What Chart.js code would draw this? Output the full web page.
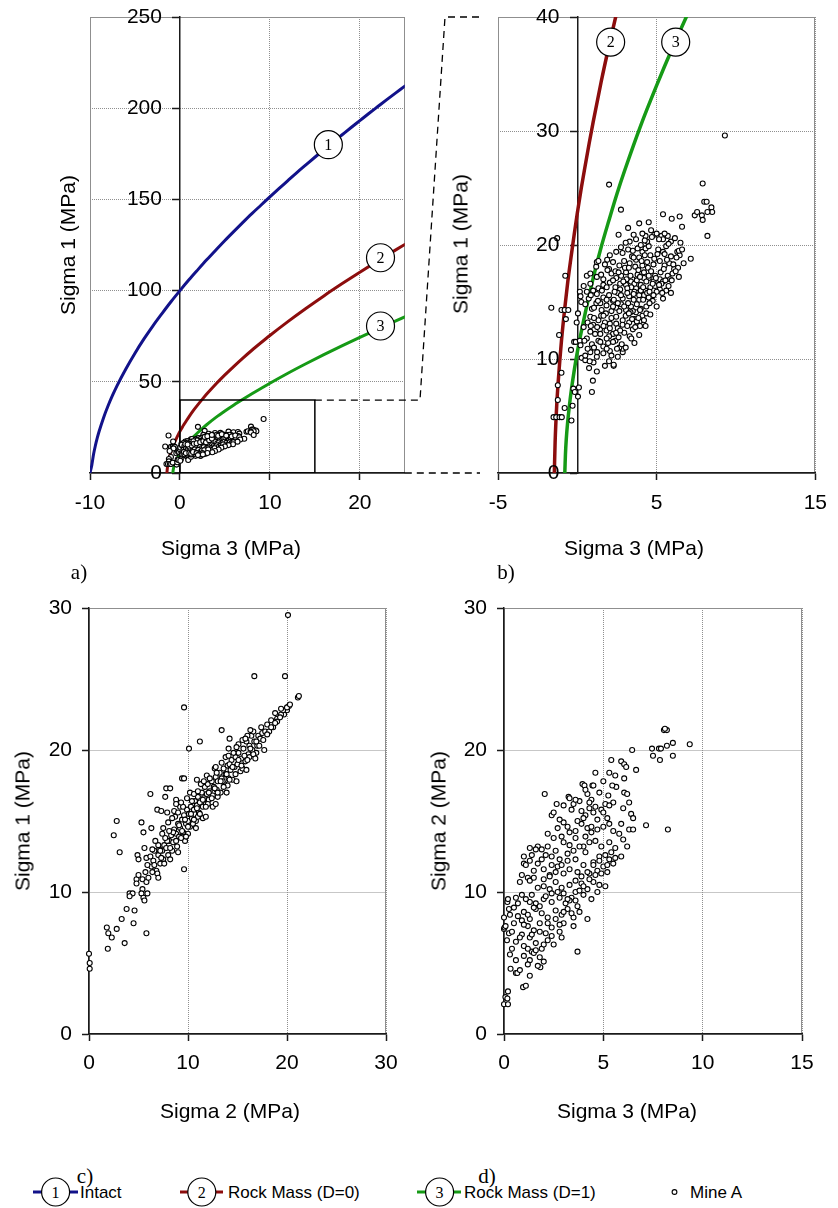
<!DOCTYPE html>
<html><head><meta charset="utf-8"><title>Mine A stresses</title>
<script src="https://cdn.jsdelivr.net/npm/chart.js@4.4.1/dist/chart.umd.min.js"></script>
<style>
html,body{margin:0;padding:0;background:#fff}
#wrap{position:relative;width:838px;height:1208px;overflow:hidden;background:#fff;font-family:"Liberation Sans",Arial,Helvetica,sans-serif;color:#000}
#wrap canvas{position:absolute;display:block}
.t{position:absolute;font-size:21px;line-height:1;white-space:nowrap;transform:translate(-50%,-50%)}
.ty{transform:translate(-50%,-50%) rotate(-90deg)}
.p{position:absolute;font-family:"Liberation Serif","Times New Roman",serif;font-size:21px;line-height:1;transform:translate(-50%,-50%)}
.lg{position:absolute;font-size:17px;line-height:1;white-space:nowrap;transform:translateY(-50%)}
svg{position:absolute;overflow:visible}
</style></head><body><div id="wrap">
<canvas id="cA" width="420" height="560" style="left:0;top:0"></canvas>
<canvas id="cB" width="418" height="560" style="left:420px;top:0"></canvas>
<canvas id="cC" width="420" height="560" style="left:0;top:560px"></canvas>
<canvas id="cD" width="418" height="560" style="left:420px;top:560px"></canvas>
<canvas id="ov" width="838" height="560" style="left:0;top:0;pointer-events:none"></canvas>

<div class="t ty" style="left:67px;top:245px">Sigma 1 (MPa)</div>
<div class="t" style="left:231px;top:547px">Sigma 3 (MPa)</div>
<div class="t ty" style="left:460px;top:244px">Sigma 1 (MPa)</div>
<div class="t" style="left:634px;top:547px">Sigma 3 (MPa)</div>
<div class="t ty" style="left:22px;top:821px">Sigma 1 (MPa)</div>
<div class="t" style="left:230px;top:1110px">Sigma 2 (MPa)</div>
<div class="t ty" style="left:438px;top:821px">Sigma 2 (MPa)</div>
<div class="t" style="left:627px;top:1110px">Sigma 3 (MPa)</div>

<div class="p" style="left:79px;top:572px">a)</div>
<div class="p" style="left:506px;top:572px">b)</div>
<div class="p" style="left:85px;top:1176px">c)</div>
<div class="p" style="left:487px;top:1176px">d)</div>

<svg width="838" height="40" style="left:0;top:1172px">
 <line x1="33" y1="20" x2="78" y2="20" stroke="#12128a" stroke-width="3"/>
 <circle cx="55.6" cy="20" r="14" fill="#fff" stroke="#000" stroke-width="1.2"/>
 <text x="55.6" y="25.5" text-anchor="middle" font-family="Liberation Serif, Times New Roman, serif" font-size="16">1</text>
 <line x1="180" y1="20" x2="223" y2="20" stroke="#8c0d0d" stroke-width="3"/>
 <circle cx="201.8" cy="20" r="14" fill="#fff" stroke="#000" stroke-width="1.2"/>
 <text x="201.8" y="25.5" text-anchor="middle" font-family="Liberation Serif, Times New Roman, serif" font-size="16">2</text>
 <line x1="417" y1="20" x2="461" y2="20" stroke="#169a16" stroke-width="3"/>
 <circle cx="439.6" cy="20" r="14" fill="#fff" stroke="#000" stroke-width="1.2"/>
 <text x="439.6" y="25.5" text-anchor="middle" font-family="Liberation Serif, Times New Roman, serif" font-size="16">3</text>
 <circle cx="674.5" cy="20" r="2.4" fill="#fff" stroke="#000" stroke-width="1.1"/>
</svg>
<div class="lg" style="left:80px;top:1192px">Intact</div>
<div class="lg" style="left:228px;top:1192px">Rock Mass (D=0)</div>
<div class="lg" style="left:464px;top:1192px">Rock Mass (D=1)</div>
<div class="lg" style="left:690px;top:1192px">Mine A</div>
</div>
<script>
// ---------- data ----------
// Curve 1: intact rock (sigma3, sigma1)
const intactS3 = [-10,-9.8,-9.6,-9.4,-9.2,-9,-8.5,-8,-7.5,-7,-6,-5,-4,-3,-2,-1,0,1,2,3,4,5,6,7,8,9,10,11,12,13,14,15,16,17,18,19,20,21,22,23,24,25];
const intactS1 = [0,4.3,10.4,15.1,19.1,22.6,30.2,36.7,42.5,47.8,57.2,65.7,73.5,80.7,87.4,93.9,100,105.9,111.5,117.0,122.3,127.5,132.5,137.4,142.2,146.8,151.4,155.9,160.3,164.7,168.9,173.1,177.2,181.3,185.3,189.3,193.2,197.1,200.9,204.7,208.4,212.1];
// Curve 2: rock mass D=0
const rmD0S3 = [-1.45,-1.4,-1.3,-1.2,-1.1,-1.0,-0.8,-0.6,-0.4,-0.2,0,0.25,0.5,0.75,1,1.5,2,2.5,3,4,5,6,7,8,9,10,12,14,16,18,20,22,25];
const rmD0S1 = [0,2.7,5.9,8.1,9.95,11.6,14.35,16.8,18.9,20.9,22.8,25.0,27.0,28.95,30.8,34.3,37.5,40.5,43.4,48.8,53.8,58.5,63.0,67.3,71.4,75.4,83.0,90.2,97.1,103.7,110.1,116.3,125.3];
// Curve 3: rock mass D=1
const rmD1S3 = [-0.79,-0.78,-0.75,-0.7,-0.6,-0.5,-0.4,-0.2,0,0.25,0.5,0.75,1,1.5,2,2.5,3,4,5,6,7,8,9,10,12,14,16,18,20,22,25];
const rmD1S1 = [0,0.4,1.6,2.9,4.6,5.9,7.05,8.96,10.6,12.4,14.05,15.6,17.1,19.8,22.2,24.5,26.6,30.5,34.0,37.3,40.4,43.4,46.3,49.2,54.7,59.9,64.9,69.7,74.4,78.9,85.6];
// Zoom window shown in b)
const zoomBoxS3 = [0,15,15,0,0];
const zoomBoxS1 = [0,0,40,40,0];
// Curve callout labels
const calloutText = ['1','2','3'];
const calloutA_S3 = [16.5,22.3,22.3];
const calloutA_S1 = [180,118,80.6];
const calloutB_text = ['2','3'];
const calloutB_S3 = [2.1,6.2];
const calloutB_S1 = [37.8,37.8];
// Tick values
const ticksA_x = [-10,0,10,20];
const ticksA_y = [0,50,100,150,200,250];
const ticksB_x = [-5,5,15];
const ticksB_y = [0,10,20,30,40];
const ticksC_x = [0,10,20,30];
const ticksC_y = [0,10,20,30];
const ticksD_x = [0,5,10,15];
const ticksD_y = [0,10,20,30];

// Mine A: (sigma3, sigma1)
const mineA_s3s1 = [
[9.3,29.6],[2.0,25.3],[7.9,25.4],[2.75,23.1],[8.0,23.8],[8.15,23.8],[8.45,23.3],[8.5,22.9],[8.2,22.9],[7.4,22.6],[7.55,22.9],[7.85,22.6],[7.9,22.2],[8.2,20.8],[5.4,22.7],[5.95,22.3],[6.45,22.5],[6.6,21.6],[4.5,22.0],[3.9,21.9],[3.2,21.5],[2.6,20.9],[7.15,18.8],[6.5,20.2],
[-1.27,20.6],[-0.76,17.3],[-1.64,14.5],[-1.0,14.3],[-0.8,14.3],[-0.57,14.3],[-0.72,13.5],[-1.15,12.1],[-1.0,8.8],[-1.23,7.7],[-1.23,6.4],[-1.5,4.9],[-1.33,4.9],[-1.12,4.9],[-0.98,4.9],[-0.37,4.6],[-0.8,5.7],[-0.3,5.9],[-0.25,7.4],[0.1,7.5],[-0.16,7.1],[0.04,6.7],[-0.4,10.8],[-0.2,11.5],[-0.1,11.5],[0.16,11.6],[0.2,11.2],[-0.04,13.2],[0.04,14.0],[0.16,15.9],[0.25,15.0],[0.27,10.1],[0.5,9.9],[0.74,9.2],[0.98,8.1],[0.92,7.1],[1.02,9.7],[0.78,9.8],[1.23,8.9],[1.74,9.4],[2.29,9.4],[2.29,9.5],[2.86,10.6],[2.86,10.9],[0.6,17.3],[1.19,18.1],[1.23,18.5],[1.88,18.7],[2.0,17.9],
[3.3,20.3],[3.7,20.5],[4.3,20.8],[4.85,20.9],[5.0,21.0],[5.3,20.8],[5.4,20.5],[5.7,20.8],[5.9,20.3],
[2.05,19.1],[2.45,19.4],[2.85,19.3],[3.2,19.6],[3.5,19.5],[3.8,19.7],[4.1,19.4],[4.3,19.7],[4.5,19.9],[5.1,19.6],[5.4,19.4],[5.9,19.0],[6.3,19.4],[6.45,19.1],
[1.33,18.6],[1.74,18.3],[2.25,18.5],[2.65,18.2],[2.95,18.6],[3.3,18.4],[3.7,18.7],[4.1,18.2],[4.4,18.5],[4.8,18.3],[5.2,18.6],[5.5,18.2],[5.8,18.4],[6.1,17.9],[6.35,18.0],
[0.82,17.5],[1.23,17.2],[1.64,17.0],[2.15,17.5],[2.45,17.1],[2.76,17.3],[3.07,17.6],[3.48,17.0],[3.8,17.4],[4.2,17.6],[4.5,17.1],[4.9,17.3],[5.2,17.0],[5.4,16.8],[5.7,17.3],
[0.4,16.4],[0.82,16.6],[1.33,16.2],[1.64,16.5],[2.05,16.7],[2.4,16.3],[2.7,16.1],[3.07,16.5],[3.38,16.8],[3.7,16.2],[4.0,16.5],[4.3,16.0],[4.6,16.3],[4.9,16.4],[5.2,16.1],[5.3,16.6],
[0.2,15.5],[0.72,15.3],[1.23,15.7],[1.64,15.4],[2.0,15.6],[2.25,15.1],[2.55,15.8],[2.86,15.3],[3.27,15.5],[3.6,15.9],[3.9,15.2],[4.2,15.6],[4.5,15.4],[4.75,15.1],
[0.5,14.8],[0.92,14.4],[1.53,14.3],[1.84,14.7],[2.15,14.2],[2.45,14.5],[2.76,14.8],[3.07,14.3],[3.38,14.6],[3.7,14.1],[4.0,14.4],[4.1,13.8],
[0.82,13.7],[1.33,13.4],[1.74,13.2],[2.15,13.6],[2.45,13.1],[2.86,13.4],[3.27,13.2],[3.6,13.5],[3.8,13.0],[4.2,13.4],
[0.4,12.8],[0.82,12.4],[1.12,12.2],[1.43,12.6],[1.84,12.5],[2.25,12.2],[2.55,12.7],[2.96,12.3],[3.5,12.6],
[0.6,11.8],[0.92,11.3],[1.33,11.6],[1.64,11.1],[1.94,11.4],[2.4,11.6],[2.65,11.0],[2.8,11.3],
[0.5,10.3],[0.82,10.6],[1.23,10.2],[1.64,10.5],[2.05,10.7],
[6.0,17.5],[6.2,17.7],[5.6,16.0],[5.0,15.9],[6.4,19.5],[5.6,19.9],[5.5,19.2],[4.6,19.1],[4.0,20.0],[3.9,18.9],[4.4,20.3],[4.7,20.7],[5.5,21.0],[4.1,21.0],[4.5,17.3],[4.2,17.1],[3.6,16.6],[3.4,16.3],[4.8,16.8],[4.4,15.8],[3.9,15.6],[4.0,16.0],[3.2,14.9],[3.5,14.2],[4.35,14.0],[3.75,13.3],[4.15,13.0],[3.95,12.9],[3.3,12.0],[3.4,11.8],[2.6,11.9],[2.0,12.0],[1.5,13.8],[1.0,13.0],[1.8,14.0],[2.3,15.2],[2.7,16.6],[3.1,17.0],[3.0,18.0],[2.4,17.7],[1.9,17.8],[1.5,17.4],[1.0,16.0],[0.6,15.9],[1.2,14.9],
[3.45,19.0],[3.65,18.1],[3.85,17.8],[4.05,18.6],[4.25,19.1],[4.45,18.0],[4.65,17.7],[4.85,18.8],[5.05,19.2],[5.25,17.6],[5.45,17.9],[5.65,18.7],[5.85,17.0],[6.05,18.3],[6.25,18.9],
[3.15,16.2],[3.35,17.3],[3.55,15.7],[3.75,16.9],[3.95,17.2],[4.15,16.3],[4.35,16.8],[4.55,15.9],[4.75,16.6],[4.95,17.1],[5.15,16.5],[5.35,15.8],[5.55,16.9],[5.75,16.4],[5.95,16.9],
[2.35,15.9],[2.55,14.9],[2.75,15.6],[2.95,14.6],[3.15,15.8],[3.35,14.1],[3.55,15.2],[3.75,14.8],[3.95,14.3],[4.15,15.2],[4.35,14.6],[4.55,14.9],[4.8,15.6],
[1.45,14.9],[1.65,13.8],[1.85,15.2],[2.05,13.1],[2.25,14.6],[2.45,13.7],[2.65,14.2],[2.85,13.0],[3.05,13.8],[3.25,14.0],[3.45,13.5],[3.65,12.8],[3.85,13.6],
[0.65,13.2],[0.85,12.9],[1.05,13.6],[1.25,12.8],[1.45,12.2],[1.65,12.9],[1.85,11.8],[2.05,12.7],[2.25,11.5],[2.45,12.3],[2.7,12.5],[3.15,12.9],
[0.45,11.6],[0.65,10.9],[1.05,11.0],[1.25,10.6],[1.45,11.5],[1.85,10.9],[2.15,10.3],[2.5,10.9],
[1.05,14.5],[1.3,15.1],[0.85,15.6],[1.55,16.0],[1.85,16.3],[2.25,16.9],[2.6,17.6],[2.9,16.8],[3.25,18.0],[3.55,18.9],[2.75,19.8],[3.05,20.2],[3.55,20.9],[4.25,20.4],[4.65,21.3],[5.15,20.5],[5.75,20.1],[6.15,20.6],[6.6,19.6],[6.7,18.4],[6.4,17.2],[5.9,15.8],[5.4,15.3],[5.0,14.6],[4.6,13.9],[4.3,12.9],[3.9,12.1],[3.6,11.4],[3.05,11.0],[2.55,10.2],[2.0,9.8]
];
// Mine A: (sigma2, sigma1)
const mineA_s2s1 = [
[20.1,29.5],[16.7,25.2],[19.8,25.2],[21.1,23.7],[21.2,23.8],[9.6,23.0],[20.2,23.1],[20.0,22.8],[19.7,22.5],[19.4,22.5],[19.0,22.2],[13.4,21.4],[14.2,20.8],[11.2,20.6],[10.1,20.1],[14.1,20.1],[6.2,16.9],[9.4,18.0],[9.6,18.0],[7.8,17.3],[8.2,17.3],[7.7,16.7],[6.9,15.8],[8.8,16.5],[2.8,15.0],[2.5,14.0],[5.3,14.9],[5.5,14.2],[6.3,14.5],[3.1,12.8],[4.9,12.6],[5.6,13.1],[5.0,12.3],[9.6,11.6],[3.8,8.8],[4.6,8.7],[4.1,9.9],[4.4,9.9],[4.1,9.7],[3.3,8.1],[4.5,7.8],[1.8,7.5],[1.95,7.1],[2.3,6.8],[2.8,7.4],[1.9,6.0],[3.6,6.4],[5.8,7.1],[0.0,5.65],[0.07,5.0],[0.07,4.6],[4.8,10.9],[4.8,10.6],[5.4,10.9],[5.8,10.7],[5.4,10.2],[5.3,9.9],[5.5,9.6],[5.6,9.4],[5.9,9.9],[5.0,11.2],
[6.0,11.0],[6.3,11.8],[6.5,12.2],[6.8,11.5],[7.0,12.6],[7.2,12.0],[7.4,12.9],[7.6,13.3],[7.1,13.0],[6.6,12.9],[7.8,13.1],[8.0,12.6],[8.1,13.6],[8.3,14.0],[8.5,13.5],[8.6,14.4],[8.8,14.1],[8.9,13.2],[9.0,14.8],[9.1,13.9],[9.2,14.5],[9.4,15.1],[9.5,14.2],[9.6,15.4],[9.7,13.6],[9.8,14.8],[9.9,15.8],[10.0,15.0],[10.1,15.5],[10.2,14.6],[10.3,16.0],[10.4,15.2],[10.6,15.8],[10.7,16.4],[10.8,15.0],[10.9,16.1],[11.0,16.7],[11.1,15.6],[11.2,16.3],[11.4,17.0],[11.5,16.0],[11.6,16.6],[11.7,17.4],[11.8,16.2],[11.9,16.9],[12.0,17.6],[12.1,16.5],[12.2,17.1],[12.4,17.8],[12.5,16.8],[12.6,17.4],[12.8,18.1],[12.9,17.2],[13.0,17.8],[13.2,18.4],[13.3,17.0],[13.4,18.0],[13.6,18.7],[13.7,17.6],[13.8,18.3],[14.0,18.9],[14.1,18.0],[14.3,18.6],[14.4,19.3],[14.5,17.9],[14.7,18.8],[14.8,19.5],[15.0,19.0],[15.1,19.8],[15.3,18.5],[15.4,19.4],[15.6,20.1],[15.8,19.2],[15.9,20.6],[16.1,19.7],[16.2,20.3],[16.4,21.0],[16.5,20.0],[16.7,20.6],[16.9,19.8],[17.1,21.0],[17.3,20.8],[17.5,21.2],[17.8,21.3],[18.2,21.3],[18.0,21.8],[18.6,21.6],[18.4,22.1],[19.0,22.0],[19.3,22.3],[19.6,22.8],[20.0,23.0],[20.3,23.2],
[13.0,16.7],[12.0,16.2],[11.0,15.3],[10.5,14.8],[9.3,13.8],[8.4,12.9],[9.0,12.8],[7.5,12.3],[6.9,11.3],[10.2,17.0],[9.2,16.0],[8.7,15.3],[8.0,14.9],[7.5,14.5],[7.0,13.3],[6.4,13.0],[5.8,12.4],[6.2,12.5],[5.7,11.4],[12.7,18.7],[14.6,19.8],[15.5,20.7],[16.0,21.0],[11.3,17.6],[10.9,17.9],[13.8,19.5],[14.2,19.0],[8.8,16.2],[9.5,16.0],[10.6,16.9],[11.9,18.2],[12.9,18.4],[15.1,20.4],[17.0,20.3],[16.6,21.3],[18.8,22.6],[19.4,22.9],[10.0,14.1],[11.5,15.2],[12.5,16.0],[14.0,17.5],[13.5,17.8],[15.5,18.7],[16.2,19.5],
[7.3,12.4],[7.6,12.0],[7.9,13.6],[8.2,13.1],[8.5,14.2],[8.8,13.6],[9.1,14.7],[9.4,14.3],[9.7,15.1],[10.0,14.6],[10.3,15.5],[10.6,15.1],[10.9,15.9],[11.2,15.5],[11.5,16.5],[11.8,16.0],[12.1,17.0],[12.4,16.6],[12.7,17.3],[13.0,17.0],[13.3,17.8],[13.6,17.4],[13.9,18.3],[14.2,17.9],[14.5,18.8],[14.8,18.3],[15.1,19.3],[15.4,18.9],[15.7,19.6],[16.0,19.3],[16.3,20.1],[16.6,19.7],[16.9,20.6],[17.2,20.3],[17.6,20.7],[18.0,21.1],[18.4,21.6],[18.8,21.9],
[8.6,15.7],[9.0,15.6],[9.3,16.3],[9.9,16.6],[10.4,16.4],[11.0,17.1],[11.6,17.8],[12.2,18.0],[12.8,18.8],[13.4,19.1],[14.1,19.6],[14.9,20.2],[15.8,20.8],[16.3,21.4],[17.4,21.6],
[9.8,13.9],[10.8,14.5],[11.8,15.3],[12.8,16.2],[13.9,17.0],[14.9,17.8],[15.9,18.6],[16.8,19.4],[17.7,20.0],
[6.6,11.9],[7.2,12.9],[7.7,13.8],[8.1,14.3],[8.4,15.2],[8.2,12.3],[7.0,11.0],[6.4,11.4],[5.9,11.9],[6.7,13.6],[7.4,14.1],[7.9,15.6],[7.3,15.7]
];
// Mine A: (sigma3, sigma2)
const mineA_s3s2 = [
[9.35,20.4],[8.5,20.5],[8.5,19.6],[8.2,20.3],[8.05,21.4],[8.2,21.4],[8.1,21.5],[7.45,20.1],[7.5,19.6],[7.8,20.1],[7.9,20.1],[7.85,19.3],[6.45,20.0],[6.65,18.6],[5.4,19.3],[5.9,19.2],[6.05,19.0],[6.15,18.8],[5.3,18.4],[4.6,18.4],[8.25,14.4],[7.15,14.7],[6.05,18.0],[6.05,17.0],[5.65,17.4],[5.45,17.5],[5.25,16.8],[3.95,17.6],[4.05,17.5],[4.45,17.5],[2.05,16.9],[2.65,16.2],[2.4,15.4],[3.25,16.7],[3.7,5.8],[0.0,8.2],[0.0,7.4],[0.03,7.5],[0.08,7.6],[0.17,9.3],[0.25,8.8],[0.25,7.1],[0.15,6.6],[0.3,5.6],[0.33,4.6],[0.6,4.3],[0.67,4.3],[0.8,4.5],[0.2,3.0],[0.07,2.6],[0.17,2.5],[0.0,2.1],[0.2,2.1],[0.96,3.3],[1.1,3.4],[1.3,4.1],[1.83,4.7],[4.2,8.1],[3.5,7.6],
[3.3,16.6],[3.8,16.4],[4.2,16.9],[4.4,16.5],[5.1,16.2],[5.5,16.3],[6.3,16.3],
[2.5,15.6],[3.4,15.8],[3.9,15.7],[4.1,15.4],[4.3,15.9],[4.5,15.6],[4.9,15.8],[5.2,15.2],[6.4,15.5],[6.5,15.2],
[2.7,14.5],[3.0,14.9],[3.2,14.6],[3.6,14.3],[3.9,14.8],[4.2,14.5],[4.4,14.2],[4.7,14.4],[5.0,14.6],[5.3,14.8],[5.5,14.3],[5.9,14.8],[6.3,14.4],[6.5,14.4],
[1.7,13.2],[1.9,13.0],[2.5,13.8],[3.0,13.5],[3.3,13.3],[3.6,13.8],[4.0,13.2],[4.3,13.5],[4.6,13.6],[4.9,13.2],[5.3,13.5],[6.2,13.2],[6.0,13.7],
[1.0,12.5],[1.3,12.2],[1.7,12.0],[2.1,12.6],[2.4,12.5],[2.8,12.3],[3.2,12.7],[3.6,12.3],[4.1,12.8],[4.5,12.1],[4.8,12.5],[5.3,12.3],[5.6,12.4],[5.9,12.5],
[0.9,11.2],[1.2,11.0],[1.5,11.5],[2.0,11.6],[2.3,11.2],[2.7,11.8],[3.0,11.3],[3.3,11.6],[3.7,11.4],[4.0,11.9],[4.3,11.3],[4.7,11.5],[5.0,11.8],[5.2,11.4],
[0.8,10.7],[1.3,10.8],[2.0,10.4],[2.3,10.2],[2.6,10.7],[2.9,10.3],[3.3,10.5],[3.6,10.0],[3.9,10.6],[4.2,10.2],[4.5,10.7],[4.8,10.5],[5.1,10.4],
[0.2,9.5],[0.6,9.6],[0.9,9.8],[1.3,9.3],[1.6,9.2],[2.0,9.5],[2.4,9.9],[2.8,9.6],[3.1,9.2],[3.4,9.6],[3.7,9.0],[4.0,9.8],[4.4,9.5],[4.7,10.0],
[0.5,8.9],[0.7,8.3],[1.0,8.6],[1.3,8.1],[1.6,8.8],[1.9,8.5],[2.2,8.2],[2.6,8.7],[2.9,8.4],[3.2,8.8],[3.5,8.2],[3.8,8.6],
[0.4,7.2],[0.9,7.0],[1.2,7.6],[1.5,7.3],[1.8,7.8],[2.1,7.1],[2.4,7.5],[2.8,7.2],[3.0,7.8],[2.9,6.8],
[0.6,6.5],[1.0,6.2],[1.3,6.8],[1.6,6.4],[1.9,6.0],[2.2,6.6],[2.5,6.3],[1.4,5.8],
[1.0,5.5],[1.3,5.2],[1.5,5.7],[1.8,5.4],[2.0,5.1],[1.7,4.8],[1.2,4.9],
[1.3,13.1],[1.6,13.0],[1.0,12.0],[1.5,11.0],[2.4,11.9],[3.5,16.2],[4.3,16.3],[4.5,17.5],
[0.3,8.4],[0.5,7.8],[0.7,9.2],[0.9,8.0],[1.1,9.5],[1.2,8.4],[1.4,9.8],[1.5,8.9],[1.7,10.3],[1.8,9.0],[2.0,10.9],[2.1,9.7],[2.3,11.1],[2.4,9.3],[2.6,11.4],[2.7,10.0],[2.9,11.9],[3.0,9.9],[3.2,12.2],[3.3,9.4],[3.5,12.9],[3.6,10.8],[3.8,13.2],[3.9,11.1],[4.1,13.9],[4.2,11.4],[4.4,14.6],[4.5,11.9],[4.7,15.1],[4.8,12.2],[5.0,15.6],[5.1,12.6],[5.3,16.1],[5.4,12.8],[5.6,13.1],[5.8,14.1],[6.0,15.9],[6.2,16.9],
[0.4,6.0],[0.6,5.2],[0.8,6.8],[1.0,7.7],[1.2,6.0],[1.4,7.0],[1.6,5.9],[1.8,7.2],[2.0,6.3],[2.2,7.8],[2.4,6.9],[2.6,8.1],[2.8,7.7],[3.0,8.6],[3.2,9.5],[3.4,8.5],[3.6,9.4],[3.8,10.1],[4.0,10.4],[4.3,10.9],[4.6,11.2],[4.9,11.3],[5.2,11.9],[5.5,12.0],
[1.1,11.9],[1.4,12.6],[1.9,12.3],[2.2,13.2],[2.6,12.9],[2.9,13.9],[3.3,14.2],[3.7,15.0],[4.0,15.2],[4.6,16.0],[2.2,14.1],[2.8,15.1],[3.0,16.1],[3.6,16.5],[4.1,17.2],[4.8,17.0],[5.0,17.8],[5.6,18.2]
];

// ---------- styling ----------
const BLUE = '#12128a', RED = '#8c0d0d', GREEN = '#169a16';
const GRID = '#8f8f8f', AX = '#1a1a1a';
const FONT = {family: '"Liberation Sans", Arial, Helvetica, sans-serif', size: 21};
const MARK = 2.5;

function xy(xs, ys) { return xs.map((x, i) => ({x: x, y: ys[i]})); }
function pairs(arr) { return arr.map(p => ({x: p[0], y: p[1]})); }

function curveDS(data, color, w) {
  return {data: data, showLine: true, borderColor: color, backgroundColor: color, borderWidth: w,
    pointRadius: 0, pointHoverRadius: 0, tension: 0.35, cubicInterpolationMode: 'monotone',
    borderJoinStyle: 'round', borderCapStyle: 'round'};
}
function pointsDS(data, r) {
  return {data: data, showLine: false, pointRadius: r, pointHoverRadius: r, pointBorderWidth: 1.1,
    pointBorderColor: '#000', pointBackgroundColor: '#fff', clip: false};
}
function calloutDS(xs, ys, labels) {
  return {data: xy(xs, ys), showLine: false, pointRadius: 14, pointHoverRadius: 14, pointBorderWidth: 1.2,
    pointBorderColor: '#000', pointBackgroundColor: '#fff', clip: false, calloutText: labels};
}
function axis(o) {
  return {
    type: 'linear', min: o.min, max: o.max, position: o.position,
    afterBuildTicks: s => { s.ticks = o.ticks.map(v => ({value: v})); },
    afterFit: s => { if (o.size != null) { if (s.isHorizontal()) s.height = o.size; else s.width = o.size; } },
    grid: {display: true, color: GRID, lineWidth: 1, drawOnChartArea: true, drawTicks: true,
      tickLength: 7, tickColor: AX, tickWidth: 1.5},
    border: {display: true, color: AX, width: 1.5, dash: [1, 1]},
    ticks: {display: o.showLabels !== false, font: FONT, color: '#000', padding: o.pad || 10,
      maxRotation: 0, minRotation: 0, autoSkip: false, callback: v => String(v)}
  };
}

const frame = {
  id: 'frame',
  beforeDraw(chart) {
    const a = chart.chartArea, ctx = chart.ctx;
    ctx.save();
    ctx.strokeStyle = GRID; ctx.lineWidth = 1;
    ctx.strokeRect(Math.round(a.left) + 0.5, Math.round(a.top) + 0.5, Math.round(a.right - a.left) - 1, Math.round(a.bottom - a.top));
    ctx.restore();
  }
};
const callout = {
  id: 'callout',
  afterDatasetsDraw(chart) {
    const ctx = chart.ctx;
    ctx.save();
    ctx.font = '16px "Liberation Serif", "Times New Roman", serif';
    ctx.fillStyle = '#000'; ctx.textAlign = 'center'; ctx.textBaseline = 'middle';
    chart.data.datasets.forEach((ds, i) => {
      if (!ds.calloutText) return;
      chart.getDatasetMeta(i).data.forEach((pt, j) => ctx.fillText(ds.calloutText[j], pt.x, pt.y + 1));
    });
    ctx.restore();
  }
};
// tick labels for a y axis that crosses at x = 0
const crossLabels = {
  id: 'crossLabels',
  afterDraw(chart, args, opts) {
    if (!opts || !opts.enabled) return;
    const ys = chart.scales.y, xs = chart.scales.x, ctx = chart.ctx;
    const x0 = xs.getPixelForValue(opts.at) - opts.offset;
    ctx.save();
    ctx.font = FONT.size + 'px ' + FONT.family;
    ctx.fillStyle = '#000'; ctx.textAlign = 'right'; ctx.textBaseline = 'middle';
    ys.ticks.forEach(t => ctx.fillText(String(t.value), x0, ys.getPixelForValue(t.value)));
    ctx.restore();
  }
};

function baseOptions(padding, scales, cross) {
  return {
    responsive: false, animation: false, devicePixelRatio: 1, events: [],
    layout: {padding: padding},
    plugins: {legend: {display: false}, tooltip: {enabled: false}, crossLabels: cross || {enabled: false}},
    scales: scales
  };
}

// ---------- a) ----------
const chartA = new Chart(document.getElementById('cA'), {
  type: 'scatter',
  data: {datasets: [
    calloutDS(calloutA_S3, calloutA_S1, calloutText),
    pointsDS(pairs(mineA_s3s1), MARK),
    Object.assign(curveDS(xy(zoomBoxS3, zoomBoxS1), '#000', 1.5), {tension: 0, cubicInterpolationMode: 'default', borderJoinStyle: 'miter', borderCapStyle: 'butt'}),
    curveDS(xy(intactS3, intactS1), BLUE, 3),
    curveDS(xy(rmD0S3, rmD0S1), RED, 3),
    curveDS(xy(rmD1S3, rmD1S1), GREEN, 3)
  ]},
  options: baseOptions({left: 90, right: 15, top: 17, bottom: 0}, {
    x: axis({min: -10, max: 25, ticks: ticksA_x, size: 87, pad: 11, position: 'bottom'}),
    y: axis({min: 0, max: 250, ticks: ticksA_y, position: {x: 0}, showLabels: false})
  }, {enabled: true, at: 0, offset: 18}),
  plugins: [frame, callout, crossLabels]
});

// ---------- b) ----------
const chartB = new Chart(document.getElementById('cB'), {
  type: 'scatter',
  data: {datasets: [
    calloutDS(calloutB_S3, calloutB_S1, calloutB_text),
    pointsDS(pairs(mineA_s3s1), MARK),
    curveDS(xy(rmD0S3, rmD0S1), RED, 3.5),
    curveDS(xy(rmD1S3, rmD1S1), GREEN, 3.5)
  ]},
  options: baseOptions({left: 78, right: 14, top: 17, bottom: 0}, {
    x: axis({min: -5, max: 15, ticks: ticksB_x, size: 87, pad: 11, position: 'bottom'}),
    y: axis({min: 0, max: 40, ticks: ticksB_y, position: {x: 0}, showLabels: false})
  }, {enabled: true, at: 0, offset: 18}),
  plugins: [frame, callout, crossLabels]
});

// ---------- c) ----------
const chartC = new Chart(document.getElementById('cC'), {
  type: 'scatter',
  data: {datasets: [pointsDS(pairs(mineA_s2s1), MARK)]},
  options: baseOptions({left: 0, right: 34, top: 48, bottom: 0}, {
    x: axis({min: 0, max: 30, ticks: ticksC_x, size: 86, pad: 10, position: 'bottom'}),
    y: axis({min: 0, max: 30, ticks: ticksC_y, size: 89, pad: 10, position: 'left'})
  }),
  plugins: [frame]
});

// ---------- d) ----------
const chartD = new Chart(document.getElementById('cD'), {
  type: 'scatter',
  data: {datasets: [pointsDS(pairs(mineA_s3s2), MARK)]},
  options: baseOptions({left: 0, right: 36, top: 48, bottom: 0}, {
    x: axis({min: 0, max: 15, ticks: ticksD_x, size: 86, pad: 10, position: 'bottom'}),
    y: axis({min: 0, max: 30, ticks: ticksD_y, size: 84, pad: 10, position: 'left'})
  }),
  plugins: [frame]
});

// ---------- dashed connector from the zoom box in a) to b) ----------
(function () {
  const ctx = document.getElementById('ov').getContext('2d');
  const ax = chartA.scales.x, ay = chartA.scales.y;
  const bx0 = 420 + chartB.chartArea.left, btop = chartB.chartArea.top;
  const boxR = ax.getPixelForValue(Math.max.apply(null, zoomBoxS3));
  const boxT = ay.getPixelForValue(Math.max.apply(null, zoomBoxS1));
  const boxB = ay.getPixelForValue(Math.min.apply(null, zoomBoxS1));
  const aRight = chartA.chartArea.right;
  ctx.save();
  ctx.strokeStyle = '#000'; ctx.lineWidth = 1.3; ctx.setLineDash([7, 5]);
  ctx.beginPath();
  ctx.moveTo(boxR, boxT); ctx.lineTo(420, boxT); ctx.lineTo(445, btop); ctx.lineTo(bx0 - 18, btop);
  ctx.stroke();
  ctx.beginPath();
  ctx.moveTo(aRight, boxB); ctx.lineTo(bx0 - 18, boxB);
  ctx.stroke();
  ctx.restore();
})();
</script>
</body></html>
